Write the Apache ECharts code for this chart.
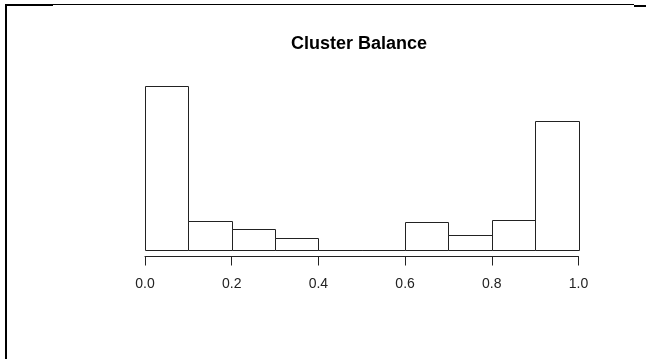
<!DOCTYPE html>
<html>
<head>
<meta charset="utf-8">
<script src="https://cdn.jsdelivr.net/npm/echarts@6/dist/echarts.min.js"></script>
<style>
  html, body { margin: 0; padding: 0; background: #fff; }
  #hist_chart { width: 646px; height: 359px; }
</style>
</head>
<body>
<div id="hist_chart"></div>
<script>
// bin edges and counts
var bin_starts = [0.0, 0.1, 0.2, 0.3, 0.4, 0.5, 0.6, 0.7, 0.8, 0.9];
var bin_ends   = [0.1, 0.2, 0.3, 0.4, 0.5, 0.6, 0.7, 0.8, 0.9, 1.0];
var counts     = [57, 10, 7, 3.9, 0, 0, 9.7, 5.1, 10.3, 44.7];
var tick_labels = ['0.0', '0.2', '0.4', '0.6', '0.8', '1.0'];

var hist_data = bin_starts.map(function (s, i) {
    return [s, bin_ends[i], counts[i]];
});

var hist_chart = echarts.init(document.querySelector("#hist_chart"));
var hist_chart_option = {
    animation: false,
    backgroundColor: '#fff',
    title: {
        text: 'Cluster Balance',
        left: 291,
        top: 35,
        padding: 0,
        textStyle: {
            fontFamily: 'Liberation Sans',
            fontSize: 18,
            fontWeight: 'bold',
            color: '#000'
        }
    },
    grid: {
        left: 145,
        right: 67.5,
        top: 86,
        bottom: 109.5
    },
    xAxis: {
        type: 'value',
        min: 0,
        max: 1,
        interval: 0.2,
        offset: 7,
        splitLine: { show: false },
        axisLine: { show: true, onZero: false, lineStyle: { color: '#222', width: 1 } },
        axisTick: { show: true, length: 9, lineStyle: { color: '#222', width: 1 } },
        axisLabel: {
            margin: 21,
            color: '#222',
            fontFamily: 'Liberation Sans',
            fontSize: 14,
            formatter: function (v) {
                return tick_labels[Math.round(v / 0.2)];
            }
        }
    },
    yAxis: {
        type: 'value',
        min: 0,
        max: 57,
        show: false
    },
    series: [{
        type: 'custom',
        data: hist_data,
        renderItem: function (params, api) {
            var p0 = api.coord([api.value(0), 0]);
            var p1 = api.coord([api.value(1), api.value(2)]);
            return {
                type: 'rect',
                shape: {
                    x: Math.round(p0[0]) + 0.5,
                    y: Math.round(p1[1]) + 0.5,
                    width: Math.round(p1[0]) - Math.round(p0[0]),
                    height: Math.round(p0[1]) - Math.round(p1[1])
                },
                style: { fill: '#fff', stroke: '#222', lineWidth: 1 }
            };
        }
    }],
    graphic: [
        // frame remnants round the picture
        { type: 'rect', shape: { x: 5, y: 4, width: 2, height: 360 }, style: { fill: '#000' } },
        { type: 'rect', shape: { x: 5, y: 4, width: 48, height: 2 }, style: { fill: '#000' } },
        { type: 'rect', shape: { x: 53, y: 4, width: 581, height: 1 }, style: { fill: '#000' } },
        { type: 'rect', shape: { x: 634, y: 5, width: 12, height: 2 }, style: { fill: '#000' } }
    ]
};
hist_chart.setOption(hist_chart_option);
</script>
</body>
</html>
